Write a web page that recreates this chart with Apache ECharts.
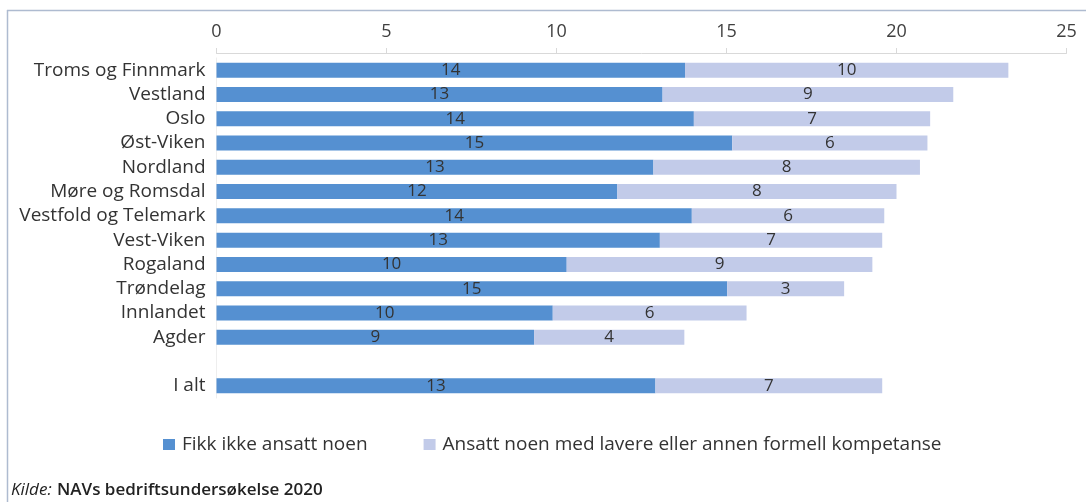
<!DOCTYPE html>
<html>
<head>
<meta charset="utf-8">
<script src="https://cdn.jsdelivr.net/npm/echarts@6/dist/echarts.min.js"></script>
<style>
html,body{margin:0;padding:0;background:#fff;}
#c{width:1086px;height:502px;}
</style>
</head>
<body>
<div id="c"></div>
<script>
const categories = ['Troms og Finnmark','Vestland','Oslo','Øst-Viken','Nordland','Møre og Romsdal','Vestfold og Telemark','Vest-Viken','Rogaland','Trøndelag','Innlandet','Agder','','I alt'];
const fikkIkke = [13.78,13.12,14.04,15.17,12.85,11.79,13.98,13.04,10.3,15.02,9.89,9.34,null,12.91];
const ansattLavere = [9.51,8.55,6.95,5.74,7.84,8.21,5.66,6.54,8.99,3.44,5.7,4.42,null,6.67];
const xTicks = [0,5,10,15,20,25];
const seriesNames = ['Fikk ikke ansatt noen','Ansatt noen med lavere eller annen formell kompetanse'];

const FONT = '"Open Sans", sans-serif';
const chart = echarts.init(document.getElementById('c'), null, {renderer:'canvas'});
const lbl = {
  show:true, position:'inside', color:'#333', fontFamily:FONT, fontSize:17,
  formatter: p => (p.value == null ? '' : Math.round(p.value))
};
chart.setOption({
  animation:false,
  grid:{left:216.5, right:19.5, top:58, height:340},
  legend:{
    left:158, top:430, itemWidth:12, itemHeight:11, itemGap:56, icon:'rect',
    textStyle:{fontFamily:FONT, fontSize:19, color:'#333', padding:[0,0,0,2]},
    data:seriesNames
  },
  xAxis:{
    type:'value', position:'top', min:xTicks[0], max:xTicks[xTicks.length-1], interval:5, offset:5,
    axisLine:{show:true, lineStyle:{color:'#d9d9d9'}},
    axisTick:{show:true, length:5, lineStyle:{color:'#d9d9d9'}},
    axisLabel:{fontFamily:FONT, fontSize:18, color:'#404040', margin:12},
    splitLine:{show:false}
  },
  yAxis:{
    type:'category', data:categories, inverse:true,
    axisLine:{show:true, lineStyle:{color:'#eeeeee'}}, axisTick:{show:false},
    axisLabel:{fontFamily:FONT, fontSize:19, lineHeight:20, color:'#333', margin:11, interval:0, hideOverlap:false}
  },
  series:[
    {name:seriesNames[0], type:'bar', stack:'a', data:fikkIkke, barWidth:15,
     itemStyle:{color:'#5590d1'}, label:lbl},
    {name:seriesNames[1], type:'bar', stack:'a', data:ansattLavere, barWidth:15,
     itemStyle:{color:'#c2cbe9'}, label:lbl}
  ],
  graphic:[
    {type:'line', shape:{x1:7, y1:10.5, x2:1086, y2:10.5}, style:{stroke:'#aebbd0', lineWidth:1.5}},
    {type:'line', shape:{x1:7.5, y1:10, x2:7.5, y2:502}, style:{stroke:'#aebbd0', lineWidth:1.5}},
    {type:'text', left:11, top:482, style:{text:'Kilde:', font:'italic 17px "Open Sans", sans-serif', fill:'#222'}},
    {type:'text', left:57, top:482, style:{text:'NAVs bedriftsundersøkelse 2020', font:'600 17px "Open Sans", sans-serif', fill:'#222'}}
  ]
});
</script>
</body>
</html>
